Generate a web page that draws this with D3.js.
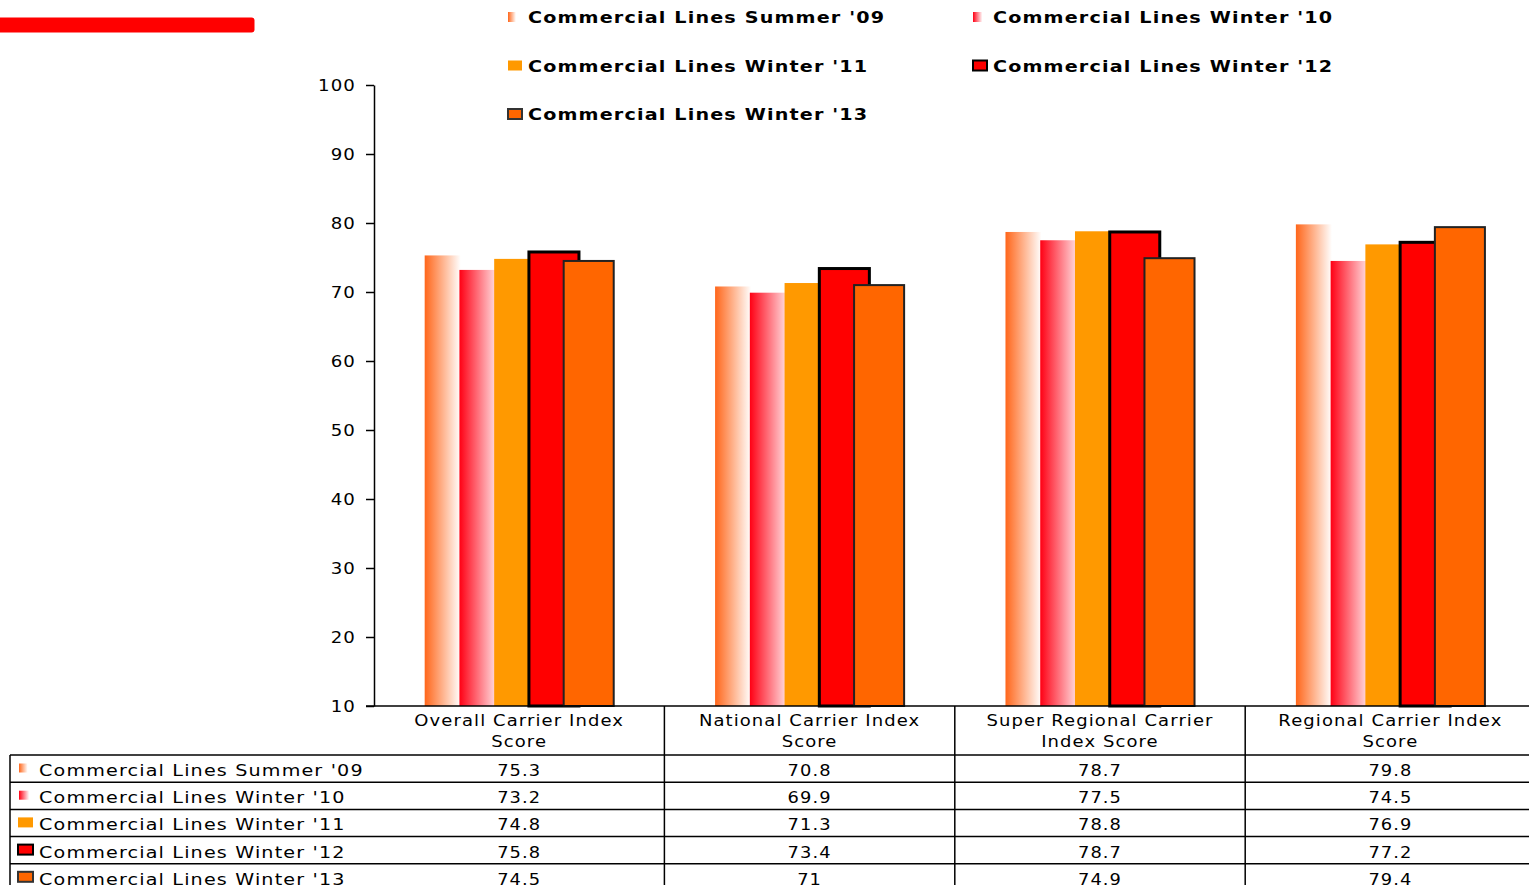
<!DOCTYPE html>
<html>
<head>
<meta charset="utf-8">
<script src="https://cdn.jsdelivr.net/npm/d3@7"></script>
<style>
  html, body { margin: 0; padding: 0; background: #fff; overflow: hidden; }
  svg { display: block; }
  text { font-family: "DejaVu Sans", Verdana, sans-serif; fill: #000; }
</style>
</head>
<body>
<svg id="chart" width="1529" height="885"></svg>
<script>
// Category columns (two-line labels)
const categories = [
  ["Overall Carrier Index", "Score"],
  ["National Carrier Index", "Score"],
  ["Super Regional Carrier", "Index Score"],
  ["Regional Carrier Index", "Score"]
];
const seriesNames = [
  "Commercial Lines Summer '09",
  "Commercial Lines Winter '10",
  "Commercial Lines Winter '11",
  "Commercial Lines Winter '12",
  "Commercial Lines Winter '13"
];
const summer09 = [75.3, 70.8, 78.7, 79.8];
const winter10 = [73.2, 69.9, 77.5, 74.5];
const winter11 = [74.8, 71.3, 78.8, 76.9];
const winter12 = [75.8, 73.4, 78.7, 77.2];
const winter13 = [74.5, 71, 74.9, 79.4];
const seriesValues = [summer09, winter10, winter11, winter12, winter13];
const yTicks = [10, 20, 30, 40, 50, 60, 70, 80, 90, 100];

const svg = d3.select("#chart");
const defs = svg.append("defs");

// Widen glyphs slightly, keeping the anchor point
function widen(sel, factor) {
  sel.each(function () {
    const w = this.getComputedTextLength();
    d3.select(this).attr("textLength", w * factor).attr("lengthAdjust", "spacingAndGlyphs");
  });
  return sel;
}

// Fills for each series
const grad09 = defs.append("linearGradient").attr("id", "g09").attr("x1", 0).attr("x2", 1).attr("y1", 0).attr("y2", 0);
grad09.append("stop").attr("offset", "0%").attr("stop-color", "#FF661A");
grad09.append("stop").attr("offset", "72%").attr("stop-color", "#FFFFFF");
grad09.append("stop").attr("offset", "100%").attr("stop-color", "#FFFFFF");
const grad10 = defs.append("linearGradient").attr("id", "g10").attr("x1", 0).attr("x2", 1).attr("y1", 0).attr("y2", 0);
grad10.append("stop").attr("offset", "0%").attr("stop-color", "#FF0014");
grad10.append("stop").attr("offset", "85%").attr("stop-color", "#FFFFFF");
grad10.append("stop").attr("offset", "100%").attr("stop-color", "#FFFFFF");

const styles = [
  { fill: "url(#g09)", stroke: "none", sw: 0 },
  { fill: "url(#g10)", stroke: "none", sw: 0 },
  { fill: "#FF9900", stroke: "none", sw: 0 },
  { fill: "#FF0000", stroke: "#000000", sw: 3 },
  { fill: "#FF6600", stroke: "#222222", sw: 2 }
];

// Plot geometry
const plotLeft = 374, plotRight = 1535.6;
const plotTop = 85, plotBottom = 706;

const x = d3.scaleBand().domain(d3.range(categories.length)).range([plotLeft, plotRight]).padding(0);
const y = d3.scaleLinear().domain([10, 100]).range([plotBottom, plotTop]);

// Overlapping bars within each group
const groupSpan = 5 * 34.75;
const inner = d3.scaleBand().domain(d3.range(seriesNames.length)).range([0, groupSpan]).padding(0);
const barW = inner.step() * 1.44;
const groupOffset = (x.bandwidth() - (inner.step() * 4 + barW)) / 2;

// Decorative red bar top-left
svg.append("rect").attr("x", -6).attr("y", 17.5).attr("width", 260.5).attr("height", 15)
  .attr("rx", 3).attr("fill", "#FF0000");

// Y axis
const yAxis = d3.axisLeft(y).tickValues(yTicks).tickSize(8).tickPadding(10).tickSizeOuter(0);
const gy = svg.append("g").attr("transform", `translate(${plotLeft},0)`).call(yAxis);
gy.select(".domain").attr("stroke", "#000").attr("stroke-width", 1.5);
gy.selectAll(".tick line").attr("stroke", "#000").attr("stroke-width", 1.5);
gy.selectAll(".tick text").attr("font-size", 16.5).attr("letter-spacing", "1px")
  .attr("font-family", "DejaVu Sans, sans-serif").attr("fill", "#000").attr("dy", "0.36em")
  .call(widen, 1.1);

// Bars
seriesValues.forEach((vals, si) => {
  const st = styles[si];
  svg.append("g").selectAll("rect").data(vals).join("rect")
    .attr("x", (d, i) => x(i) + groupOffset + inner(si))
    .attr("y", d => y(d))
    .attr("width", barW)
    .attr("height", d => y(10) - y(d))
    .attr("fill", st.fill)
    .attr("stroke", st.stroke)
    .attr("stroke-width", st.sw);
});

// Data table beneath the plot
const tableLeft = 10;
const headerBottom = 755;
const rowH = 27.2;
const tbl = svg.append("g");
const lineStyle = sel => sel.attr("stroke", "#000").attr("stroke-width", 1.5);

// horizontal rules
tbl.append("line").attr("x1", plotLeft - 8).attr("x2", 1529).attr("y1", plotBottom).attr("y2", plotBottom).call(lineStyle);
d3.range(seriesNames.length + 1).forEach(r => {
  const yy = headerBottom + r * rowH;
  tbl.append("line").attr("x1", tableLeft).attr("x2", 1529).attr("y1", yy).attr("y2", yy).call(lineStyle);
});
// vertical rules
tbl.append("line").attr("x1", tableLeft).attr("x2", tableLeft).attr("y1", headerBottom).attr("y2", 885).call(lineStyle);
d3.range(1, categories.length).forEach(i => {
  tbl.append("line").attr("x1", x(i)).attr("x2", x(i)).attr("y1", plotBottom).attr("y2", 885).call(lineStyle);
});

// category header labels
categories.forEach((lines, i) => {
  lines.forEach((ln, k) => {
    tbl.append("text").attr("x", x(i) + x.bandwidth() / 2).attr("y", 726 + k * 21)
      .attr("text-anchor", "middle").attr("font-size", 16.5).attr("letter-spacing", "1px").text(ln)
      .call(widen, 1.09);
  });
});

// legend keys
function drawKey(g, si, kx, ky, w, h) {
  const st = styles[si];
  g.append("rect").attr("x", kx).attr("y", ky).attr("width", w).attr("height", h)
    .attr("fill", st.fill)
    .attr("stroke", si >= 3 ? (si === 3 ? "#000" : "#333") : "none")
    .attr("stroke-width", si >= 3 ? 2 : 0);
}
seriesNames.forEach((name, si) => {
  const rowTop = headerBottom + si * rowH;
  const gradKey = si < 2;
  drawKey(tbl, si, gradKey ? 19 : 18, rowTop + 13 - (gradKey ? 4.5 : 5), gradKey ? 12 : 15, gradKey ? 9 : 10);
  tbl.append("text").attr("x", 39).attr("y", rowTop + 21)
    .attr("font-size", 16.5).attr("letter-spacing", "1px").text(name)
    .call(widen, 1.16);
  seriesValues[si].forEach((v, i) => {
    tbl.append("text").attr("x", x(i) + x.bandwidth() / 2).attr("y", rowTop + 21)
      .attr("text-anchor", "middle").attr("font-size", 16.5).attr("letter-spacing", "1px").text(v)
      .call(widen, 1.08);
  });
});

// Top legend
const legendPos = [[508, 23], [973, 23], [508, 71.5], [973, 71.5], [508, 120]];
const lg = svg.append("g");
seriesNames.forEach((name, si) => {
  const [lx, ly] = legendPos[si];
  const gradKey = si < 2;
  drawKey(lg, si, lx, ly - 11, gradKey ? 11 : 14, 10);
  lg.append("text").attr("x", lx + 20).attr("y", ly)
    .attr("font-size", 16.5).attr("font-weight", "bold").attr("letter-spacing", "1px").text(name)
    .call(widen, 1.16);
});
</script>
</body>
</html>
